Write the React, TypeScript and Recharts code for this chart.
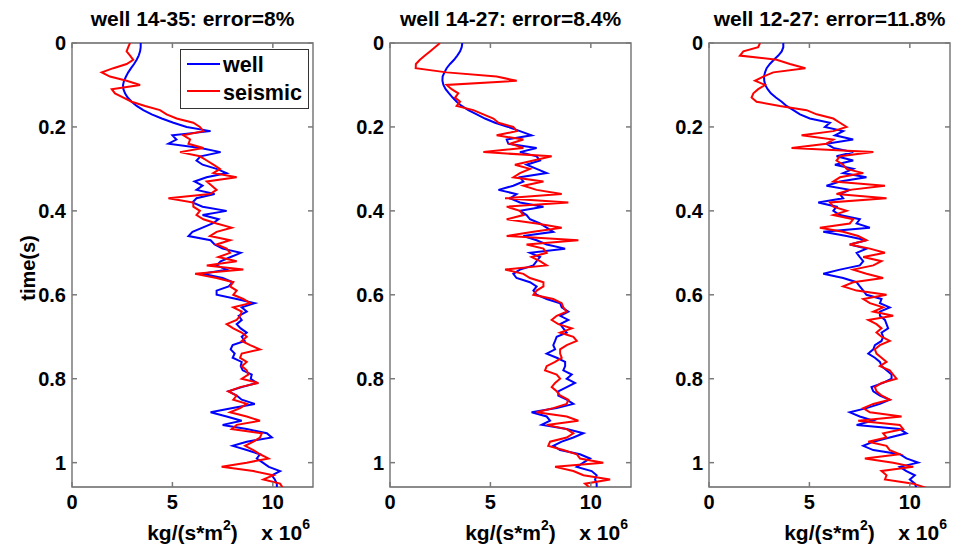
import React from 'react';
import { ScatterChart, Scatter, XAxis, YAxis, ReferenceArea, Legend } from 'recharts';

// time samples (s), shared by every trace
const times = [
  0, 0.01, 0.02, 0.03, 0.04, 0.05, 0.06, 0.07, 0.08, 0.09,
  0.1, 0.11, 0.12, 0.13, 0.14, 0.15, 0.16, 0.17, 0.18, 0.19,
  0.2, 0.21, 0.22, 0.23, 0.24, 0.25, 0.26, 0.27, 0.28, 0.29,
  0.3, 0.31, 0.32, 0.33, 0.34, 0.35, 0.36, 0.37, 0.38, 0.39,
  0.4, 0.41, 0.42, 0.43, 0.44, 0.45, 0.46, 0.47, 0.48, 0.49,
  0.5, 0.51, 0.52, 0.53, 0.54, 0.55, 0.56, 0.57, 0.58, 0.59,
  0.6, 0.61, 0.62, 0.63, 0.64, 0.65, 0.66, 0.67, 0.68, 0.69,
  0.7, 0.71, 0.72, 0.73, 0.74, 0.75, 0.76, 0.77, 0.78, 0.79,
  0.8, 0.81, 0.82, 0.83, 0.84, 0.85, 0.86, 0.87, 0.88, 0.89,
  0.9, 0.91, 0.92, 0.93, 0.94, 0.95, 0.96, 0.97, 0.98, 0.99,
  1, 1.01, 1.02, 1.03, 1.04, 1.05, 1.06,
];

// impedance, x 10^6 kg/(s*m^2)
const well1 = [
  3.42, 3.42, 3.39, 3.32, 3.22, 3.09, 2.94, 2.8, 2.69, 2.59,
  2.54, 2.56, 2.64, 2.77, 2.97, 3.22, 3.55, 3.97, 4.47, 5.05,
  5.71, 6.9, 5.0, 5.2, 4.8, 6.4, 7.4, 6.4, 6.2, 6.5,
  7.2, 7.7, 6.7, 6.1, 6.5, 6.2, 7.1, 6.2, 6.0, 6.5,
  7.7, 6.5, 7.3, 7.0, 6.5, 6.0, 5.8, 6.9, 7.1, 7.5,
  8.4, 7.9, 7.4, 7.2, 7.7, 6.5, 7.5, 8.0, 7.8, 7.2,
  7.2, 8.2, 9.1, 8.45, 8.7, 8.3, 8.45, 8.2, 8.4, 8.7,
  8.45, 8.6, 8.0, 7.9, 8.1, 8.0, 8.45, 8.4, 8.5, 8.95,
  8.9, 9.2, 8.45, 7.8, 8.2, 8.45, 9.1, 8.0, 6.9, 7.7,
  8.45, 7.5, 8.7, 9.7, 9.95, 8.7, 8.0, 8.7, 9.36, 9.2,
  9.5, 9.8, 10.36, 9.95, 10.1, 10.2, 10.2,
];
const seismic1 = [
  2.89, 2.8, 2.72, 2.89, 3.05, 2.72, 2.06, 1.48, 1.89, 2.72,
  3.39, 1.98, 2.14, 2.56, 2.97, 3.64, 4.38, 4.71, 5.21, 6.04,
  6.37, 6.54, 5.54, 5.88, 5.8, 6.54, 5.38, 6.37, 6.71, 7.04,
  7.37, 7.04, 8.2, 6.71, 6.96, 7.2, 6.87, 4.8, 6.04, 6.04,
  6.37, 6.2, 6.54, 7.2, 7.95, 7.2, 6.87, 7.87, 7.2, 7.7,
  7.87, 7.29, 8.2, 6.71, 8.53, 6.13, 7.2, 8.03, 7.87, 8.2,
  8.03, 8.53, 8.87, 8.03, 8.45, 8.37, 8.2, 7.7, 8.03, 8.45,
  8.7, 8.45, 8.87, 9.36, 8.45, 8.37, 8.7, 8.45, 8.7, 8.78,
  8.45, 9.28, 8.37, 7.78, 8.2, 8.03, 8.7, 8.37, 7.87, 8.7,
  9.36, 8.2, 7.95, 9.45, 9.36, 9.03, 8.62, 9.03, 9.36, 9.78,
  8.7, 7.45, 9.03, 10.03, 9.53, 10.36, 10.5,
];
const well2 = [
  3.6, 3.57, 3.49, 3.35, 3.19, 2.99, 2.82, 2.71, 2.62, 2.61,
  2.66, 2.77, 2.94, 3.12, 3.32, 3.57, 3.9, 4.32, 4.73, 5.23,
  5.89, 6.47, 7.05, 5.81, 5.89, 7.3, 6.47, 7.3, 7.47, 6.8,
  7.3, 7.8, 6.47, 6.64, 6.14, 5.4, 6.3, 5.98, 6.47, 7.64,
  6.47, 6.8, 6.97, 7.47, 7.8, 8.13, 6.64, 7.3, 7.8, 8.72,
  6.97, 7.47, 7.3, 7.14, 6.47, 6.14, 6.3, 6.97, 7.3, 7.14,
  7.3, 7.8, 8.47, 8.55, 8.88, 8.47, 8.88, 8.47, 8.63, 8.8,
  8.3, 8.22, 8.13, 8.22, 7.8, 8.3, 8.72, 8.72, 8.63, 9.05,
  8.8, 9.21, 8.8, 8.38, 8.38, 8.8, 9.13, 8.3, 7.05, 7.8,
  7.97, 7.55, 8.8, 9.63, 9.13, 8.55, 8.13, 8.47, 9.46, 9.96,
  9.63, 9.3, 10.04, 10.29, 10.21, 10.29, 10.29,
];
const seismic2 = [
  2.49, 2.24, 1.99, 1.74, 1.49, 1.29, 1.28, 2.82, 5.31, 6.31,
  2.82, 3.07, 3.4, 3.24, 3.49, 3.32, 4.15, 4.65, 5.15, 5.4,
  6.14, 6.31, 5.31, 6.64, 5.98, 6.64, 4.65, 8.05, 7.14, 6.22,
  6.97, 6.47, 6.14, 7.64, 6.64, 7.3, 8.55, 5.73, 8.88, 5.81,
  6.47, 6.64, 5.81, 7.3, 8.55, 7.14, 5.81, 9.38, 6.8, 7.64,
  7.8, 7.05, 7.47, 7.8, 5.73, 6.64, 6.97, 7.64, 7.64, 7.3,
  7.14, 8.13, 8.55, 8.63, 8.8, 8.3, 8.05, 8.38, 9.05, 8.47,
  9.13, 9.3, 8.8, 8.47, 8.47, 8.55, 8.22, 7.8, 7.72, 8.3,
  8.47, 8.22, 8.05, 8.3, 8.47, 8.88, 8.8, 8.13, 7.3, 8.8,
  9.38, 7.8, 8.8, 9.13, 8.8, 7.97, 7.88, 8.63, 9.3, 9.46,
  10.62, 8.22, 9.13, 9.63, 10.96, 9.71, 9.96,
];
const well3 = [
  3.7, 3.7, 3.62, 3.45, 3.23, 3.03, 2.87, 2.79, 2.74, 2.75,
  2.8, 2.92, 3.08, 3.33, 3.62, 3.86, 4.2, 4.53, 5.02, 6.02,
  5.77, 6.68, 6.27, 7.18, 5.85, 6.19, 7.18, 6.35, 7.18, 6.27,
  7.18, 6.68, 7.84, 6.52, 5.85, 7.01, 6.52, 6.68, 5.44, 6.35,
  6.19, 6.52, 7.51, 7.35, 8.01, 5.69, 6.85, 7.84, 7.01, 7.84,
  7.35, 7.51, 7.68, 7.51, 6.52, 5.69, 6.68, 7.35, 7.51, 7.68,
  7.84, 8.59, 8.51, 9.0, 8.51, 8.51, 8.76, 8.84, 8.92, 8.59,
  8.67, 8.59, 8.26, 8.18, 7.93, 8.26, 8.51, 8.59, 8.84, 9.09,
  9.09, 8.67, 8.09, 8.18, 8.51, 9.0, 8.51, 7.84, 7.01, 7.51,
  8.18, 7.35, 9.5, 9.83, 9.0, 8.18, 7.68, 8.18, 9.5, 9.83,
  10.41, 9.5, 9.83, 10.25, 10.0, 10.25, 10.33,
];
const seismic3 = [
  2.54, 2.45, 1.71, 1.54, 3.37, 4.03, 4.8, 3.2, 2.7, 2.29,
  2.79, 2.45, 2.21, 2.12, 2.37, 3.53, 4.86, 5.36, 6.19, 6.52,
  6.85, 6.19, 4.61, 6.19, 5.85, 4.11, 8.18, 6.52, 6.35, 6.68,
  6.85, 7.68, 6.52, 6.19, 8.76, 7.01, 6.35, 8.84, 6.02, 6.19,
  6.85, 6.19, 7.18, 7.01, 5.52, 6.68, 7.43, 7.84, 7.01, 8.01,
  8.76, 7.68, 8.59, 8.18, 7.18, 7.84, 8.67, 7.18, 6.68, 7.35,
  8.84, 7.68, 8.01, 8.67, 8.18, 9.17, 7.93, 8.34, 8.59, 8.34,
  8.59, 9.0, 8.51, 8.26, 8.34, 8.59, 8.84, 8.51, 9.0, 9.17,
  9.34, 8.59, 8.26, 8.34, 8.59, 9.0, 8.18, 7.68, 8.01, 9.59,
  7.43, 9.5, 9.67, 8.67, 8.84, 7.93, 8.84, 9.0, 9.5, 7.76,
  9.17, 10.17, 8.59, 8.84, 8.76, 10.17, 10.83,
];

const titles = ['well 14-35: error=8%', 'well 14-27: error=8.4%', 'well 12-27: error=11.8%'];
const wellSeries = [well1, well2, well3];
const seismicSeries = [seismic1, seismic2, seismic3];
const xTicks = [0, 5, 10];
const yTicks = [0, 0.2, 0.4, 0.6, 0.8, 1];

const FONT = '"Liberation Sans", Arial, Helvetica, sans-serif';
const BLUE = '#0000ff';
const RED = '#ff0000';
const FRAME = '#666666';
const TICK = '#7a7a7a';

const panelLefts = [72, 390, 709];
const PLOT_W = 241;
const PLOT_TOP = 43;
const Y_AXIS_W = 60;
const X_AXIS_H = 61;
const CHART_W = Y_AXIS_W + PLOT_W + 2;
const CHART_H = 548;

const toPoints = (vals: number[]) => vals.map((v, i) => ({ t: times[i], v }));

const NoDot = () => <g />;

function XTick({ x, y, payload }: any) {
  return (
    <g>
      <line x1={x} y1={y} x2={x} y2={y - 5} stroke={TICK} strokeWidth={1.5} />
      <line x1={x} y1={PLOT_TOP} x2={x} y2={PLOT_TOP + 5} stroke={TICK} strokeWidth={1.5} />
      <text x={x} y={y + 22} textAnchor="middle" fontSize={20} fontWeight="bold" fontFamily={FONT} fill="#000">
        {payload.value}
      </text>
    </g>
  );
}

function YTick({ x, y, payload }: any) {
  return (
    <g>
      <line x1={x} y1={y} x2={x + 5} y2={y} stroke={TICK} strokeWidth={1.5} />
      <line x1={x + PLOT_W - 5} y1={y} x2={x + PLOT_W} y2={y} stroke={TICK} strokeWidth={1.5} />
      <text x={x - 6} y={y + 7} textAnchor="end" fontSize={20} fontWeight="bold" fontFamily={FONT} fill="#000">
        {payload.value}
      </text>
    </g>
  );
}

function UnitLabel({ viewBox }: any) {
  const { x, width } = viewBox;
  return (
    <g fontFamily={FONT} fontWeight="bold" fill="#000">
      <text x={x + width / 2} y={540} textAnchor="middle" fontSize={21}>
        kg/(s*m<tspan dy={-10} fontSize={14}>2</tspan><tspan dy={10}>)</tspan>
      </text>
      <text x={x + width - 3} y={540} textAnchor="end" fontSize={21}>
        x 10<tspan dy={-11} fontSize={14}>6</tspan>
      </text>
    </g>
  );
}

function TimeLabel() {
  return (
    <text x={23} y={268} transform="rotate(-90 23 268)" textAnchor="middle" fontSize={20}
      fontWeight="bold" fontFamily={FONT} fill="#000">
      time(s)
    </text>
  );
}

function LegendBox() {
  return (
    <svg width={129} height={60} style={{ display: 'block' }}>
      <rect x={0.5} y={0.5} width={128} height={59} fill="#fff" stroke="#333333" />
      <line x1={7} y1={15} x2={40} y2={15} stroke={BLUE} strokeWidth={2} />
      <line x1={7} y1={42} x2={40} y2={42} stroke={RED} strokeWidth={2} />
      <g fontFamily={FONT} fontWeight="bold" fontSize={21.5} fill="#000">
        <text x={43} y={23}>well</text>
        <text x={43} y={50.5}>seismic</text>
      </g>
    </svg>
  );
}

function Panel({ idx }: { idx: number }) {
  return (
    <div style={{ position: 'absolute', left: panelLefts[idx] - Y_AXIS_W, top: 0 }}>
      <ScatterChart width={CHART_W} height={CHART_H} margin={{ top: PLOT_TOP, right: 2, bottom: 0, left: 0 }}>
        <XAxis type="number" dataKey="v" domain={[0, 12]} ticks={xTicks} interval={0}
          allowDataOverflow height={X_AXIS_H} axisLine={false} tickLine={false}
          tickSize={0} tickMargin={0} tick={<XTick />} label={<UnitLabel />} />
        <YAxis type="number" dataKey="t" domain={[0, 1.058]} reversed ticks={yTicks} interval={0}
          allowDataOverflow width={Y_AXIS_W} axisLine={false} tickLine={false}
          tickSize={0} tickMargin={0} tick={<YTick />} label={idx === 0 ? <TimeLabel /> : undefined} />
        <ReferenceArea x1={0} x2={12} y1={0} y2={1.058} fill="none" stroke={FRAME} strokeWidth={1.3} />
        <Scatter name="well" data={toPoints(wellSeries[idx])} fill={BLUE} shape={NoDot}
          line={{ stroke: BLUE, strokeWidth: 2 }} isAnimationActive={false} />
        <Scatter name="seismic" data={toPoints(seismicSeries[idx])} fill={RED} shape={NoDot}
          line={{ stroke: RED, strokeWidth: 2 }} isAnimationActive={false} />
        {idx === 0 && (
          <Legend layout="vertical" align="center" verticalAlign="middle" content={<LegendBox />}
            wrapperStyle={{ left: 168, top: 49, width: 129, height: 60 }} />
        )}
      </ScatterChart>
      <div style={{
        position: 'absolute', left: Y_AXIS_W, top: 7, width: PLOT_W, textAlign: 'center',
        fontFamily: FONT, fontWeight: 'bold', fontSize: 21, lineHeight: '24px', whiteSpace: 'nowrap',
      }}>
        {titles[idx]}
      </div>
    </div>
  );
}

export default function App() {
  return (
    <div style={{ position: 'absolute', left: 0, top: 0, width: 953, height: 548, overflow: 'hidden', background: '#fff' }}>
      <Panel idx={0} />
      <Panel idx={1} />
      <Panel idx={2} />
    </div>
  );
}
